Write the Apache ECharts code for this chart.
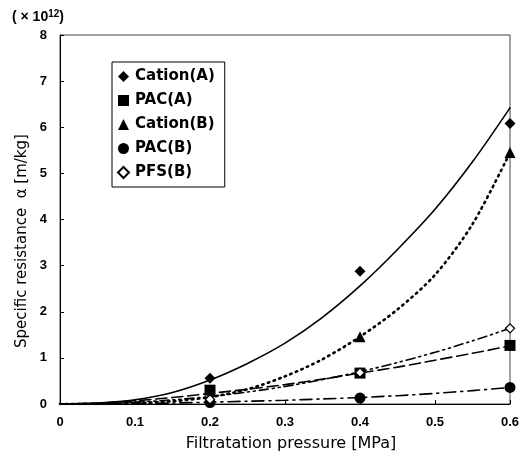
<!DOCTYPE html>
<html>
<head>
<meta charset="utf-8">
<script src="https://cdn.jsdelivr.net/npm/echarts@6/dist/echarts.min.js"></script>
<style>
  html, body { margin: 0; padding: 0; background: #fff; }
  #chart { width: 529px; height: 458px; }
</style>
</head>
<body>
<div id="chart"></div>
<script>
// measured points (pressure MPa, resistance x1e12 m/kg)
var cationA = [[0.2, 0.56], [0.4, 2.88], [0.6, 6.08]];
var pacA = [[0.2, 0.30], [0.4, 0.67], [0.6, 1.27]];
var cationB = [[0.2, 0.17], [0.4, 1.46], [0.6, 5.45]];
var pacB = [[0.2, 0.03], [0.4, 0.13], [0.6, 0.36]];
var pfsB = [[0.2, 0.10], [0.4, 0.68], [0.6, 1.64]];

// fitted curves at 0.05 MPa steps
var fitX = [0, 0.05, 0.1, 0.15, 0.2, 0.25, 0.3, 0.35, 0.4, 0.45, 0.5, 0.55, 0.6];
var fitCationA = [0, 0.02, 0.09, 0.25, 0.52, 0.88, 1.32, 1.88, 2.56, 3.35, 4.22, 5.25, 6.42];
var fitPacA = [0, 0.02, 0.07, 0.14, 0.23, 0.32, 0.42, 0.54, 0.67, 0.80, 0.95, 1.10, 1.26];
var fitCationB = [0, 0.0, 0.02, 0.06, 0.15, 0.32, 0.60, 0.97, 1.46, 2.05, 2.80, 3.90, 5.45];
var fitPacB = [0, 0.0, 0.01, 0.02, 0.04, 0.06, 0.08, 0.11, 0.14, 0.18, 0.23, 0.29, 0.36];
var fitPfsB = [0, 0.01, 0.04, 0.09, 0.16, 0.26, 0.38, 0.53, 0.70, 0.90, 1.12, 1.37, 1.64];

var xTicks = [0, 0.1, 0.2, 0.3, 0.4, 0.5, 0.6];

var font = 'Liberation Sans';
var wide = 'DejaVu Sans';

function pairs(ys) {
  return fitX.map(function (x, i) { return [x, ys[i]]; });
}

function fitLine(ys, type, width) {
  return {
    type: 'line',
    data: pairs(ys),
    smooth: 0.3,
    symbol: 'none',
    silent: true,
    lineStyle: { color: '#000', width: width, type: type, cap: 'round' },
    z: 2
  };
}

function marks(name, data, symbol, size, hollow) {
  return {
    name: name,
    type: 'scatter',
    data: data,
    symbol: symbol,
    symbolSize: size,
    itemStyle: hollow
      ? { color: '#fff', borderColor: '#000', borderWidth: 1.3, opacity: 1 }
      : { color: '#000', opacity: 1 },
    z: 5
  };
}

var myChart = echarts.init(document.getElementById('chart'));

var option = {
  animation: false,
  textStyle: { fontFamily: font, color: '#000' },
  grid: {
    left: 60, right: 19, top: 35, bottom: 54,
    show: true, borderColor: '#444', borderWidth: 1
  },
  legend: {
    data: ['Cation(A)', 'PAC(A)', 'Cation(B)', 'PAC(B)', 'PFS(B)'],
    orient: 'vertical',
    left: 112, top: 62,
    padding: [7, 10, 7, 5],
    itemGap: 9,
    itemWidth: 11, itemHeight: 11,
    backgroundColor: '#fff',
    borderColor: '#000', borderWidth: 1,
    textStyle: { fontFamily: wide, fontSize: 15, fontWeight: 'bold', color: '#000', padding: [0, 0, 0, 1] }
  },
  xAxis: {
    type: 'value',
    min: 0, max: 0.6, interval: 0.1,
    axisLine: { lineStyle: { color: '#000', width: 1 } },
    axisTick: { inside: true, length: 4, lineStyle: { color: '#000' } },
    splitLine: { show: false },
    axisLabel: {
      margin: 12, fontSize: 13, fontWeight: 'bold', color: '#000', fontFamily: font,
      formatter: function (v) { return String(xTicks[Math.round(v * 10)]); }
    }
  },
  yAxis: {
    type: 'value',
    min: 0, max: 8, interval: 1,
    axisLine: { show: true, lineStyle: { color: '#000', width: 1 } },
    axisTick: { show: true, inside: true, length: 4, lineStyle: { color: '#000' } },
    splitLine: { show: false },
    axisLabel: { margin: 13, fontSize: 13, fontWeight: 'bold', color: '#000', fontFamily: font }
  },
  graphic: [
    {
      type: 'text', left: 12, top: 9,
      style: {
        text: '( × 10{s|12})',
        fontFamily: font, fontSize: 14, fontWeight: 'bold',
        fill: '#000',
        rich: { s: { fontFamily: font, fontSize: 10, fontWeight: 'bold', verticalAlign: 'top', padding: [0, 0, 7, 0] } }
      }
    },
    {
      type: 'text', x: 22, y: 241, rotation: Math.PI / 2,
      style: {
        text: 'Specific resistance  α [m/kg]',
        fontFamily: wide, fontSize: 15, fill: '#000',
        align: 'center', verticalAlign: 'middle'
      }
    },
    {
      type: 'text', x: 291, y: 444,
      style: {
        text: 'Filtratation pressure [MPa]',
        fontFamily: wide, fontSize: 16, fill: '#000',
        align: 'center', verticalAlign: 'middle'
      }
    }
  ],
  series: [
    fitLine(fitCationA, 'solid', 1.6),
    fitLine(fitCationB, [1.5, 4.5], 2.6),
    fitLine(fitPacA, [11, 5], 1.6),
    fitLine(fitPfsB, [9, 4, 2, 4, 2, 4], 1.6),
    fitLine(fitPacB, [12, 5, 2, 5], 1.6),
    marks('Cation(A)', cationA, 'diamond', 11),
    marks('PAC(A)', pacA, 'rect', 11),
    marks('Cation(B)', cationB, 'triangle', 11),
    marks('PAC(B)', pacB, 'circle', 11),
    marks('PFS(B)', pfsB, 'diamond', 9, true)
  ]
};

myChart.setOption(option);
</script>
</body>
</html>
